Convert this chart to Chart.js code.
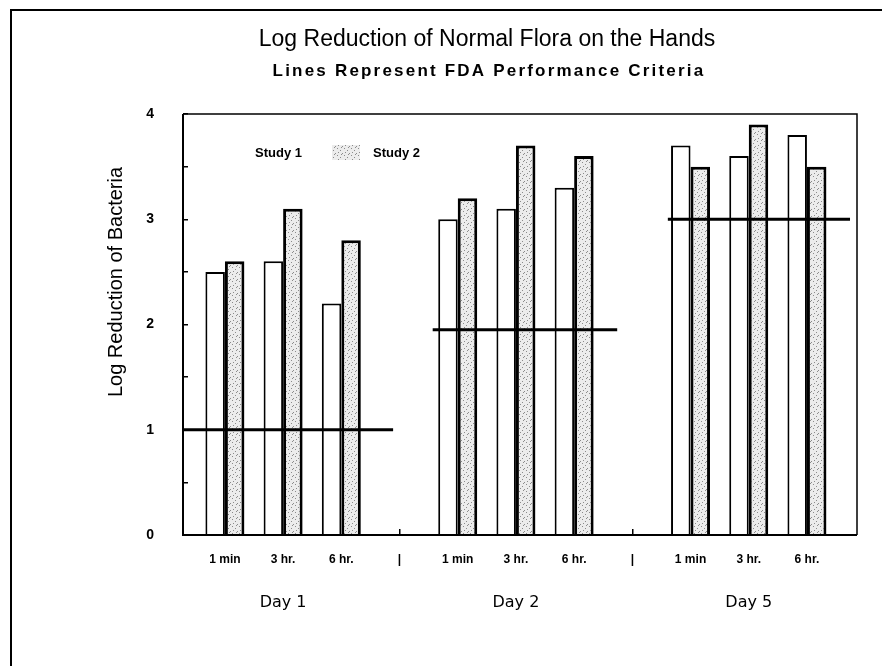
<!DOCTYPE html>
<html>
<head>
<meta charset="utf-8">
<script src="https://cdn.jsdelivr.net/npm/chart.js@4.4.1/dist/chart.umd.min.js"></script>
<style>
  html, body { margin: 0; padding: 0; background: #fff; }
  #wrap { width: 882px; height: 666px; }
</style>
</head>
<body>
<div id="wrap"><canvas id="chart"></canvas></div>
<script>
// x categories, '|' marks the break between days
const categories = ['1 min', '3 hr.', '6 hr.', '|', '1 min', '3 hr.', '6 hr.', '|', '1 min', '3 hr.', '6 hr.'];
const dayLabels = ['Day 1', 'Day 2', 'Day 5'];
const dayTickAt = [1, 5, 9];

const study1 = [2.5, 2.6, 2.2, null, 3.0, 3.1, 3.3, null, 3.7, 3.6, 3.8];
const study2 = [2.6, 3.1, 2.8, null, 3.2, 3.7, 3.6, null, 3.5, 3.9, 3.5];

// FDA performance criteria, one per day (level, and span on the category axis)
const criteriaLevel = [1, 1.95, 3];
const criteriaFrom = [-0.72, 3.57, 7.61];
const criteriaTo = [2.89, 6.74, 10.74];

const narrow = "'Liberation Sans Narrow', 'Liberation Sans', Arial, sans-serif";
const plain = "'Liberation Sans', Arial, sans-serif";

const canvas = document.getElementById('chart');
const ctx = canvas.getContext('2d');

// light stipple for Study 2
function speckle() {
    const c = document.createElement('canvas');
    c.width = 7; c.height = 7;
    const g = c.getContext('2d');
    g.fillStyle = '#ececec';
    g.fillRect(0, 0, 7, 7);
    g.fillStyle = '#8c8c8c';
    [[1, 1], [4, 3], [2, 5], [6, 6], [5, 0]].forEach(([x, y]) => g.fillRect(x, y, 1, 1));
    return ctx.createPattern(c, 'repeat');
}
const stipple = speckle();

const pts = (vals) => vals.map((v, i) => ({ x: i, y: v }));

const criteriaSets = criteriaLevel.map((lvl, i) => ({
    type: 'line',
    label: 'FDA ' + dayLabels[i],
    data: [{ x: criteriaFrom[i], y: lvl }, { x: criteriaTo[i], y: lvl }],
    borderColor: '#000',
    borderWidth: 3,
    pointRadius: 0,
    fill: false,
    order: -1
}));

// page frame, plot frame, legend and titles
const decor = {
    id: 'decor',
    beforeDraw(chart) {
        const { ctx, width, height } = chart;
        ctx.save();
        ctx.fillStyle = '#fff';
        ctx.fillRect(0, 0, width, height);
        ctx.strokeStyle = '#000';
        ctx.lineWidth = 2;
        ctx.beginPath();
        ctx.moveTo(11, height);
        ctx.lineTo(11, 10);
        ctx.lineTo(width, 10);
        ctx.stroke();
        ctx.restore();
    },
    afterDatasetsDraw(chart) {
        const { ctx, chartArea: a } = chart;
        ctx.save();
        ctx.strokeStyle = '#000';
        ctx.lineWidth = 1.5;
        ctx.beginPath();
        ctx.moveTo(a.left, a.top);
        ctx.lineTo(a.right, a.top);
        ctx.lineTo(a.right, a.bottom);
        ctx.stroke();
        ctx.lineWidth = 2;
        ctx.beginPath();
        ctx.moveTo(a.left, a.top);
        ctx.lineTo(a.left, a.bottom);
        ctx.lineTo(a.right, a.bottom);
        ctx.stroke();
        ctx.restore();
    },
    afterDraw(chart) {
        const { ctx } = chart;
        const sets = chart.data.datasets;
        ctx.save();
        ctx.fillStyle = '#000';
        ctx.textBaseline = 'middle';

        // legend inside the plot
        ctx.textAlign = 'left';
        ctx.font = 'bold 13px ' + narrow;
        ctx.fillText(sets[0].label, 255, 153);
        ctx.fillStyle = sets[1].backgroundColor;
        ctx.fillRect(332, 145, 28, 15);
        ctx.fillStyle = '#000';
        ctx.fillText(sets[1].label, 373, 153);

        ctx.textAlign = 'center';
        ctx.font = '23px ' + plain;
        ctx.fillText('Log Reduction of Normal Flora on the Hands', 487, 40);
        ctx.font = 'bold 17px ' + plain;
        ctx.letterSpacing = '2.2px';
        ctx.fillText('Lines Represent FDA Performance Criteria', 489, 71);
        ctx.letterSpacing = '0px';
        ctx.translate(116, 282);
        ctx.rotate(-Math.PI / 2);
        ctx.font = '20px ' + plain;
        ctx.fillText('Log Reduction of Bacteria', 0, 0);
        ctx.restore();
    }
};

new Chart(ctx, {
    type: 'bar',
    data: {
        datasets: [
            {
                label: 'Study 1',
                data: pts(study1),
                backgroundColor: '#fff',
                borderColor: '#000',
                borderWidth: 2,
                categoryPercentage: 0.67,
                barPercentage: 1
            },
            {
                label: 'Study 2',
                data: pts(study2),
                backgroundColor: stipple,
                borderColor: '#000',
                borderWidth: 3,
                categoryPercentage: 0.67,
                barPercentage: 1
            },
            ...criteriaSets
        ]
    },
    options: {
        responsive: true,
        maintainAspectRatio: false,
        animation: false,
        layout: { padding: { top: 114, right: 25, bottom: 0, left: 0 } },
        plugins: {
            tooltip: { enabled: false },
            title: { display: false },
            legend: { display: false }
        },
        scales: {
            x: {
                type: 'linear',
                min: -0.72,
                max: 10.86,
                offset: false,
                weight: 0,
                afterBuildTicks: s => { s.ticks = categories.map((_, i) => ({ value: i })); },
                afterFit: s => { s.height = 40; },
                ticks: {
                    autoSkip: false,
                    maxRotation: 0,
                    padding: 23,
                    color: '#000',
                    font: { family: narrow, weight: 'bold', size: 12 },
                    callback: v => categories[v]
                },
                grid: {
                    offset: false,
                    drawOnChartArea: false,
                    tickLength: -6,
                    lineWidth: 1.5,
                    color: c => (c.tick && categories[c.tick.value] === '|') ? '#000' : 'rgba(0,0,0,0)'
                },
                border: { display: false }
            },
            xDay: {
                type: 'linear',
                position: 'bottom',
                min: -0.72,
                max: 10.86,
                offset: false,
                weight: 1,
                afterBuildTicks: s => { s.ticks = dayTickAt.map(v => ({ value: v })); },
                afterFit: s => { s.height = 91; },
                ticks: {
                    autoSkip: false,
                    maxRotation: 0,
                    padding: 18,
                    color: '#000',
                    font: { family: "'DejaVu Sans', sans-serif", size: 16 },
                    callback: v => dayLabels[dayTickAt.indexOf(v)]
                },
                grid: { display: false, drawTicks: false },
                border: { display: false }
            },
            y: {
                min: 0,
                max: 4,
                afterFit: s => { s.width = 183; },
                ticks: {
                    stepSize: 0.5,
                    padding: 34,
                    color: '#000',
                    font: { family: narrow, weight: 'bold', size: 14 },
                    callback: v => Number.isInteger(v) ? v : ''
                },
                grid: {
                    drawOnChartArea: false,
                    tickLength: -5,
                    lineWidth: 1.5,
                    color: '#000'
                },
                border: { display: false }
            }
        }
    },
    plugins: [decor]
});
</script>
</body>
</html>
